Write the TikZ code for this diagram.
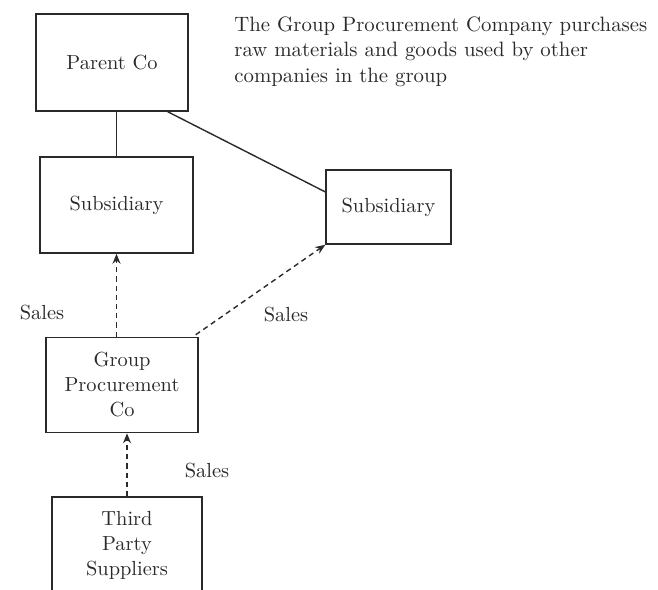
\documentclass[tikz,border=0pt]{standalone}
\usetikzlibrary{calc,arrows.meta}
\definecolor{ink}{HTML}{2A2A2A}
\tikzset{
  box/.style={draw=ink, line width=0.75pt, rectangle, align=center, inner sep=2pt, text=ink, font=\fontsize{10.2}{12.5}\selectfont},
  lbl/.style={text=ink, font=\fontsize{10.2}{12.5}\selectfont, inner sep=0pt},
  tie/.style={draw=ink, line width=0.7pt},
  salesarrow/.style={draw=ink, line width=0.7pt, dash pattern=on 2.6pt off 2pt, -{Stealth[length=5pt,width=4pt]}}
}
\begin{document}
\begin{tikzpicture}[x=0.5pt,y=-0.5pt]
\useasboundingbox (0,0) rectangle (658,589);
\node[box, minimum width=76pt, minimum height=48.5pt] (parent) at (112,62.5) {Parent Co};
\node[box, minimum width=76.5pt, minimum height=48pt] (sub1) at (116.5,205) {Subsidiary};
\node[box, minimum width=62.5pt, minimum height=37pt] (sub2) at (388.5,207) {Subsidiary};
\node[box, minimum width=76pt, minimum height=47.5pt] (gpc) at (122,385) {Group\\Procurement\\Co};
\node[box, minimum width=75pt, minimum height=48pt] (third) at (127,545) {Third\\Party\\Suppliers};
\node[lbl, anchor=north west, align=left, font=\fontsize{10.4}{12.8}\selectfont] (note) at (234,16)
  {The Group Procurement Company purchases\\raw materials and goods used by other\\companies in the group};
\node[lbl] (s1) at (42,313) {Sales};
\node[lbl] (s2) at (286,315) {Sales};
\node[lbl] (s3) at (207,471) {Sales};
\draw[tie] (sub1.north) -- (sub1.north |- parent.south);
\draw[tie] ($(parent.south east)+(-21,0)$) -- ($(sub2.north west)!0.3!(sub2.south west)$);
\draw[salesarrow] (gpc.north -| sub1.south) -- (sub1.south);
\draw[salesarrow] ($(gpc.north east)+(-3,-2)$) -- (sub2.south west);
\draw[salesarrow] (third.north) -- (third.north |- gpc.south);
\end{tikzpicture}
\end{document}
